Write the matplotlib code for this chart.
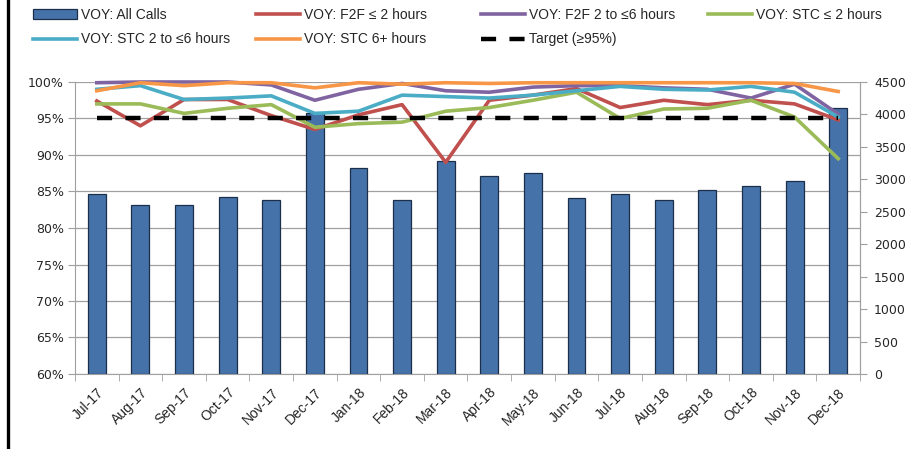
import matplotlib
matplotlib.use("Agg")
import matplotlib.pyplot as plt
from matplotlib.lines import Line2D
from matplotlib.patches import Patch

months = ['Jul-17', 'Aug-17', 'Sep-17', 'Oct-17', 'Nov-17', 'Dec-17', 'Jan-18', 'Feb-18', 'Mar-18',
          'Apr-18', 'May-18', 'Jun-18', 'Jul-18', 'Aug-18', 'Sep-18', 'Oct-18', 'Nov-18', 'Dec-18']
all_calls = [2780, 2600, 2600, 2735, 2675, 4025, 3180, 2675, 3285, 3045, 3105, 2720, 2780, 2675, 2840, 2890, 2970, 4100]
f2f_2h = [97.4, 94.0, 97.6, 97.6, 95.4, 93.5, 95.5, 96.9, 89.0, 97.5, 98.2, 99.1, 96.5, 97.5, 96.9, 97.5, 97.0, 94.8]
f2f_2to6 = [99.9, 100, 100, 100, 99.6, 97.5, 99.0, 99.8, 98.8, 98.6, 99.3, 99.5, 99.5, 99.2, 99.0, 97.8, 99.7, 95.6]
stc_2h = [97.0, 97.0, 95.7, 96.4, 96.9, 93.8, 94.3, 94.5, 96.0, 96.5, 97.5, 98.6, 95.0, 96.3, 96.4, 97.5, 95.2, 89.5]
stc_2to6 = [99.0, 99.5, 97.6, 97.8, 98.1, 95.7, 96.0, 98.2, 98.0, 97.8, 98.2, 98.8, 99.4, 99.0, 98.9, 99.4, 98.6, 95.2]
stc_6plus = [98.8, 99.9, 99.5, 99.9, 99.9, 99.2, 99.9, 99.7, 99.9, 99.8, 99.9, 99.9, 99.9, 99.9, 99.9, 99.9, 99.8, 98.7]
target = [95] * len(months)

line_series = [
    ('VOY: F2F \u2264 2 hours', f2f_2h, '#C0504D'),
    ('VOY: F2F 2 to \u22646 hours', f2f_2to6, '#8064A2'),
    ('VOY: STC \u2264 2 hours', stc_2h, '#9BBB59'),
    ('VOY: STC 2 to \u22646 hours', stc_2to6, '#4BACC6'),
    ('VOY: STC 6+ hours', stc_6plus, '#F79646'),
]

narrow = ['Liberation Sans Narrow', 'Liberation Sans', 'DejaVu Sans']
txt = '#262626'
grey = '#A0A0A0'

fig = plt.figure(figsize=(9.18, 4.49), dpi=100)
rect = [75 / 918, 1 - 374 / 449, 785 / 918, 292 / 449]
x = list(range(len(months)))

# base axes: percent scale + gridlines
ax = fig.add_axes(rect)
ax.set_xlim(-0.5, len(months) - 0.5)
ax.set_ylim(60, 100)
ax.set_yticks(range(60, 101, 5))
ax.set_yticklabels(['%d%%' % v for v in range(60, 101, 5)], fontsize=9, color=txt)
ax.yaxis.grid(True, color=grey, linewidth=0.9)
ax.tick_params(axis='y', length=5, color=grey, pad=3)
ax.set_xticks(x)
ax.set_xticklabels(months, rotation=45, ha='right', rotation_mode='anchor',
                   fontsize=10, color=txt, family=narrow)
ax.set_xticks([i - 0.5 for i in range(len(months) + 1)], minor=True)
ax.tick_params(axis='x', which='major', length=0, pad=8)
ax.tick_params(axis='x', which='minor', length=5, color=grey)
ax.spines['top'].set_visible(False)
for s in ['left', 'bottom', 'right']:
    ax.spines[s].set_color(grey)

# bars on secondary axis
ax2 = ax.twinx()
ax2.set_ylim(0, 4500)
ax2.set_yticks(range(0, 4501, 500))
ax2.tick_params(axis='y', length=5, color=grey, labelsize=9, labelcolor=txt, pad=5)
ax2.bar(x, all_calls, width=0.41, color='#4672AA', edgecolor='#1B2F4B', linewidth=0.9)
for s in ['top', 'left', 'bottom']:
    ax2.spines[s].set_visible(False)
ax2.spines['right'].set_color(grey)

# lines above the bars
ax3 = ax.twinx()
ax3.set_ylim(60, 100)
ax3.axis('off')
handles = {}
for label, vals, col in line_series:
    handles[label], = ax3.plot(x, vals, color=col, linewidth=2.6, clip_on=False, label=label)
handles['target'], = ax3.plot(x, target, color='black', linewidth=3.2, dashes=(3.4, 3.0))

bar_h = Patch(facecolor='#4672AA', edgecolor='#1B2F4B', linewidth=0.9)
cols = [
    ([bar_h, handles['VOY: STC 2 to \u22646 hours']], ['VOY: All Calls', 'VOY: STC 2 to \u22646 hours'], 33),
    ([handles['VOY: F2F \u2264 2 hours'], handles['VOY: STC 6+ hours']], ['VOY: F2F \u2264 2 hours', 'VOY: STC 6+ hours'], 256),
    ([handles['VOY: F2F 2 to \u22646 hours'], handles['target']], ['VOY: F2F 2 to \u22646 hours', 'Target (\u226595%)'], 481),
    ([handles['VOY: STC \u2264 2 hours']], ['VOY: STC \u2264 2 hours'], 708),
]
for hs, labs, xp in cols:
    fig.legend(hs, labs, loc='upper left', bbox_to_anchor=(xp / 918, 1 - 8 / 449),
               frameon=False, borderpad=0, borderaxespad=0, handlelength=3.2,
               handletextpad=0.25, labelspacing=0.75, prop={'family': narrow, 'size': 10},
               labelcolor=txt)

# left border of the screenshot
fig.add_artist(Line2D([7.5 / 918, 7.5 / 918], [0, 1], transform=fig.transFigure, color='black', linewidth=2.4))

plt.savefig('out.png', dpi=100)
